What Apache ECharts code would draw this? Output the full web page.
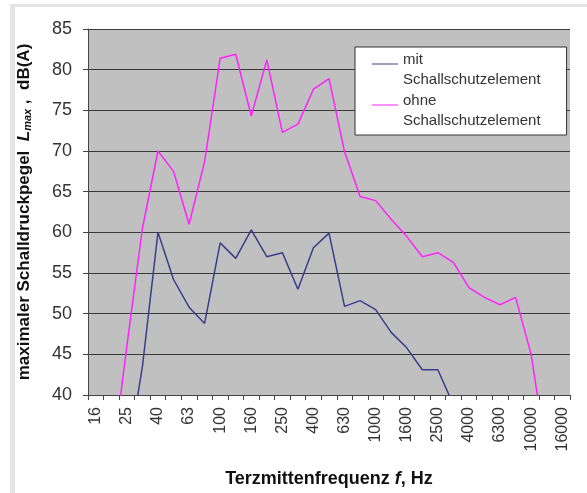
<!DOCTYPE html>
<html>
<head>
<meta charset="utf-8">
<script src="https://cdn.jsdelivr.net/npm/echarts@6/dist/echarts.min.js"></script>
<style>
  html, body { margin: 0; padding: 0; background: #fff; }
  #chart { width: 587px; height: 493px; }
</style>
</head>
<body>
<div id="chart"></div>
<script>
// Terzmittenfrequenzen (Hz)
const frequencies = ['16', '20', '25', '31.5', '40', '50', '63', '80', '100', '125', '160', '200', '250', '315', '400', '500', '630', '800', '1000', '1250', '1600', '2000', '2500', '3150', '4000', '5000', '6300', '8000', '10000', '12500', '16000']

// Lmax in dB(A)
const mitElement = [null, null, 31.7, 43.5, 60.0, 54.2, 50.8, 48.8, 58.7, 56.8, 60.3, 57.0, 57.5, 53.0, 58.1, 59.9, 50.9, 51.6, 50.5, 47.7, 45.8, 43.1, 43.1, 38.8, null, null, null, null, null, null, null]
const ohneElement = [null, 31.0, 46.0, 60.5, 70.0, 67.5, 61.0, 68.7, 81.4, 81.9, 74.3, 81.2, 72.3, 73.3, 77.6, 78.9, 69.9, 64.4, 63.9, 61.6, 59.5, 57.0, 57.5, 56.3, 53.2, 52.0, 51.1, 52.0, 45.0, 32.5, null]

const seriesNames = ['mit\nSchallschutzelement', 'ohne\nSchallschutzelement']
const yTicks = { min: 40, max: 85, interval: 5 }

const font = '"Liberation Sans", Arial, sans-serif'
const myChart = echarts.init(document.getElementById('chart'))

// legend icon: line sitting on the first text row
const legendIcon = 'path://M0,0H0.1V0.1H0Z M0,5H40V6.5H0Z M0,29.9H0.1V30H0Z'

myChart.setOption({
  animation: false,
  backgroundColor: '#fff',
  textStyle: { fontFamily: font },
  graphic: [
    { type: 'rect', shape: { x: 10, y: 4, width: 577, height: 3 }, style: { fill: '#e4e4e4' }, silent: true },
    { type: 'rect', shape: { x: 10, y: 4, width: 5, height: 489 }, style: { fill: '#e4e4e4' }, silent: true },
  ],
  grid: {
    left: 88,
    top: 29,
    right: 17,
    bottom: 97,
    show: true,
    backgroundColor: '#c0c0c0',
    borderWidth: 0,
  },
  legend: {
    left: 355,
    top: 47,
    orient: 'vertical',
    backgroundColor: '#fff',
    borderColor: '#333',
    borderWidth: 1,
    padding: [3, 26, 4, 17],
    itemGap: 1,
    itemWidth: 26,
    itemHeight: 30,
    icon: legendIcon,
    textStyle: {
      fontFamily: font,
      fontSize: 15,
      color: '#333',
      lineHeight: 20,
    },
    data: seriesNames,
  },
  xAxis: {
    type: 'category',
    data: frequencies,
    boundaryGap: true,
    name: '{b|Terzmittenfrequenz }{i|f}{b|, Hz}',
    nameLocation: 'middle',
    nameGap: 75,
    nameTextStyle: {
      rich: {
        b: { fontFamily: font, fontSize: 18, fontWeight: 'bold', color: '#111' },
        i: { fontFamily: font, fontSize: 18, fontWeight: 'bold', fontStyle: 'italic', color: '#111' },
      },
    },
    axisLine: { lineStyle: { color: '#444', width: 1 } },
    axisTick: { show: true, interval: 0, length: 5, lineStyle: { color: '#444' } },
    axisLabel: {
      interval: 1,
      rotate: 90,
      margin: 12,
      fontSize: 16,
      color: '#333',
      fontFamily: font,
    },
    splitLine: { show: false },
  },
  yAxis: {
    type: 'value',
    min: yTicks.min,
    max: yTicks.max,
    interval: yTicks.interval,
    name: '{b|maximaler Schalldruckpegel  }{i|L}{s|max}{b| ,  dB(A)}',
    nameLocation: 'middle',
    nameRotate: 90,
    nameGap: 55,
    nameTextStyle: {
      rich: {
        b: { fontFamily: font, fontSize: 17, fontWeight: 'bold', color: '#111', lineHeight: 22, verticalAlign: 'bottom' },
        i: { fontFamily: font, fontSize: 17, fontWeight: 'bold', fontStyle: 'italic', color: '#111', lineHeight: 22, verticalAlign: 'bottom' },
        s: { fontFamily: font, fontSize: 11, fontWeight: 'bold', fontStyle: 'italic', color: '#111', lineHeight: 18, verticalAlign: 'bottom' },
      },
    },
    axisLine: { show: true, lineStyle: { color: '#444', width: 1 } },
    axisTick: { show: true, length: 5, lineStyle: { color: '#444' } },
    axisLabel: {
      margin: 16,
      fontSize: 18,
      color: '#333',
      fontFamily: font,
    },
    splitLine: { show: true, lineStyle: { color: '#3a3a3a', width: 1 } },
  },
  series: [
    {
      name: seriesNames[0],
      type: 'line',
      data: mitElement,
      showSymbol: false,
      connectNulls: false,
      itemStyle: { color: '#3c3c8c' },
      lineStyle: { color: '#3c3c8c', width: 1.5 },
    },
    {
      name: seriesNames[1],
      type: 'line',
      data: ohneElement,
      showSymbol: false,
      connectNulls: false,
      itemStyle: { color: '#ff22ff' },
      lineStyle: { color: '#ff22ff', width: 1.5 },
    },
  ],
})
</script>
</body>
</html>
